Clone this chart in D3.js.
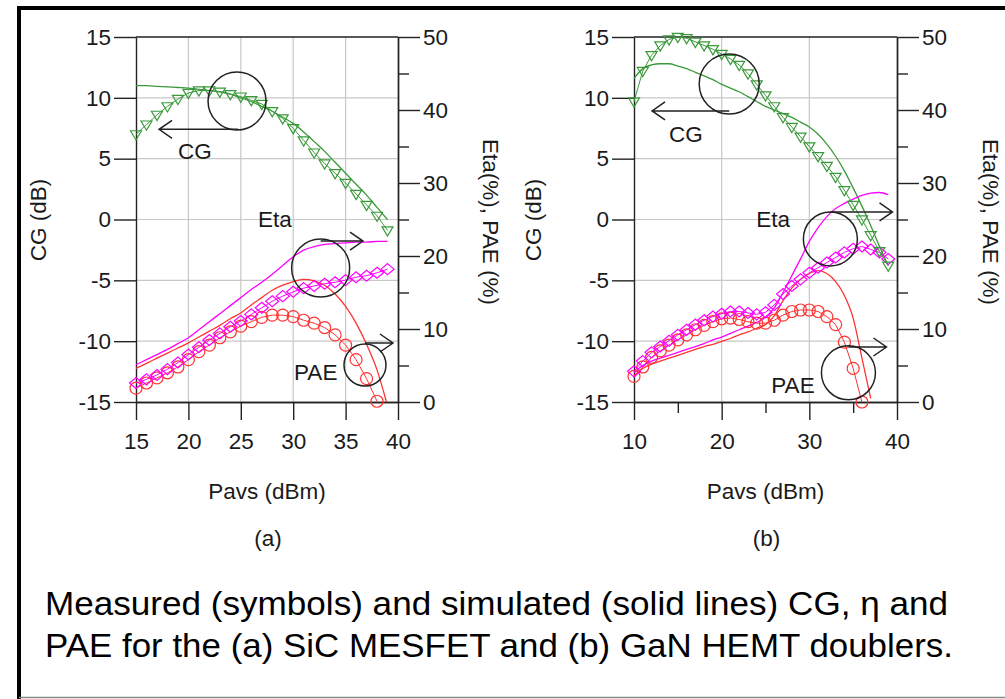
<!DOCTYPE html>
<html>
<head>
<meta charset="utf-8">
<script src="https://cdn.jsdelivr.net/npm/d3@7"></script>
<style>
	body { margin: 0; background: #fff; }
	svg text { font-family: "Liberation Sans", Arial, Helvetica, sans-serif; fill: #1a1a1a; }
</style>
</head>
<body>
<script>
// tick values
var cg_ticks = [-15, -10, -5, 0, 5, 10, 15];
var pct_ticks = [0, 10, 20, 30, 40, 50];
var pct_minor = [5, 15, 25, 35, 45];
var pavs_ticks_a = [15, 20, 25, 30, 35, 40];
var pavs_ticks_b = [10, 20, 30, 40];
var pavs_minor_b = [15, 25, 35];

// (a) SiC MESFET - measured
var pavs_a = [15, 16, 17, 18, 19, 20, 21, 22, 23, 24, 25, 26, 27, 28, 29, 30, 31, 32, 33, 34, 35, 36, 37, 38, 39];
var cg_meas_a = [7.0, 7.8, 8.6, 9.3, 9.9, 10.4, 10.6, 10.6, 10.5, 10.3, 10.1, 9.8, 9.5, 8.9, 8.3, 7.5, 6.5, 5.5, 4.6, 3.8, 3.0, 2.1, 1.2, 0.3, -0.9];
var eta_meas_a = [2.6, 3.1, 3.7, 4.5, 5.4, 6.5, 7.5, 8.5, 9.4, 10.3, 11.1, 12.0, 12.9, 13.8, 14.5, 15.1, 15.6, 15.9, 16.2, 16.4, 16.7, 17.1, 17.3, 17.7, 18.2];
var pavs_pae_a = [15, 16, 17, 18, 19, 20, 21, 22, 23, 24, 25, 26, 27, 28, 29, 30, 31, 32, 33, 34, 35, 36, 37, 38];
var pae_meas_a = [1.9, 2.6, 3.3, 4.0, 4.8, 5.8, 6.9, 7.8, 8.8, 9.6, 10.4, 11.0, 11.6, 11.9, 11.9, 11.7, 11.2, 10.8, 10.2, 9.2, 7.8, 5.8, 3.2, 0.1];
// (a) simulated
var cg_sim_a = [11.0, 11.0, 10.95, 10.9, 10.85, 10.8, 10.7, 10.6, 10.5, 10.3, 10.0, 9.7, 9.3, 8.9, 8.4, 7.9, 7.2, 6.4, 5.6, 4.7, 3.8, 2.9, 2.0, 1.0, 0.0];
var eta_sim_a = [5.1, 5.8, 6.5, 7.2, 8.0, 8.8, 9.9, 11.0, 12.1, 13.2, 14.3, 15.4, 16.4, 17.5, 18.7, 19.9, 20.8, 21.3, 21.6, 21.7, 21.8, 21.9, 21.9, 22.0, 22.0];
var pavs_pae_sim_a = [15, 16, 17, 18, 19, 20, 21, 22, 23, 24, 25, 26, 27, 28, 29, 30, 31, 32, 33, 34, 35, 36, 37, 38, 38.9];
var pae_sim_a = [4.6, 5.3, 6.0, 6.7, 7.4, 8.1, 8.9, 9.7, 10.5, 11.4, 12.2, 13.3, 14.3, 15.3, 16.0, 16.5, 16.8, 16.6, 16.0, 14.8, 13.1, 10.8, 7.9, 4.4, 0.0];

// (b) GaN HEMT - measured
var pavs_b = [10, 11, 12, 13, 14, 15, 16, 17, 18, 19, 20, 21, 22, 23, 24, 25, 26, 27, 28, 29, 30, 31, 32, 33, 34, 35, 36, 37, 38, 39];
var cg_meas_b = [9.7, 12.2, 13.5, 14.3, 14.8, 15.0, 14.9, 14.6, 14.3, 14.0, 13.6, 13.2, 12.7, 12.0, 11.1, 10.2, 9.3, 8.4, 7.6, 6.8, 6.0, 5.2, 4.4, 3.5, 2.4, 1.2, 0.0, -1.3, -2.6, -3.8];
var eta_meas_b = [4.2, 5.6, 6.8, 7.6, 8.4, 9.2, 9.9, 10.6, 11.2, 11.7, 12.1, 12.4, 12.4, 12.2, 12.0, 12.3, 13.3, 14.8, 15.9, 16.8, 17.7, 18.4, 19.1, 19.8, 20.5, 21.0, 21.3, 20.9, 20.5, 19.6];
var pavs_pae_b = [10, 11, 12, 13, 14, 15, 16, 17, 18, 19, 20, 21, 22, 23, 24, 25, 26, 27, 28, 29, 30, 31, 32, 33, 34, 35, 36];
var pae_meas_b = [3.5, 4.8, 6.1, 7.0, 7.8, 8.5, 9.2, 9.9, 10.5, 11.0, 11.4, 11.5, 11.3, 11.0, 10.8, 10.8, 11.2, 11.9, 12.4, 12.6, 12.6, 12.4, 11.7, 10.6, 8.2, 4.6, 0.0];
// (b) simulated
var cg_sim_b = [11.6, 12.4, 12.7, 12.8, 12.8, 12.6, 12.4, 12.1, 11.8, 11.5, 11.1, 10.8, 10.5, 10.1, 9.7, 9.3, 9.0, 8.7, 8.4, 8.0, 7.6, 7.0, 6.2, 5.2, 4.0, 2.6, 1.1, -0.5, -2.2, -3.8];
var eta_sim_b = [4.0, 5.0, 5.6, 6.0, 6.4, 6.8, 7.2, 7.6, 8.0, 8.5, 8.9, 9.4, 9.9, 10.4, 10.9, 11.6, 12.9, 15.0, 17.3, 19.6, 22.0, 23.9, 25.4, 26.5, 27.2, 27.8, 28.3, 28.6, 28.7, 28.4];
var pavs_pae_sim_b = [10, 11, 12, 13, 14, 15, 16, 17, 18, 19, 20, 21, 22, 23, 24, 25, 26, 27, 28, 29, 30, 31, 32, 33, 34, 35, 36, 37];
var pae_sim_b = [3.6, 4.6, 5.2, 5.6, 6.0, 6.4, 6.8, 7.2, 7.6, 7.9, 8.3, 8.7, 9.2, 9.6, 10.1, 10.6, 11.8, 13.9, 15.6, 16.8, 17.6, 18.0, 17.6, 16.5, 14.6, 11.5, 6.0, 0.5];

var w = 1005, h = 699;
var font_size = 22.5;
var green = "#3a9a3a", magenta = "#ff00ff", red = "#ff3333";
var axis_color = "#222";
var plain_num = function(d) { return "" + d; };   // keep ascii hyphen for negatives

var tri_down = "M-5.5,-3.6 L5.5,-3.6 L0,5.6 Z";
var diamond = "M0,-5.5 L6.5,0 L0,5.5 L-6.5,0 Z";
var circle = d3.symbol(d3.symbolCircle, Math.PI * 36)();

var svg = d3.select("body").append("svg")
	.attr("width", w)
	.attr("height", h);

// outer frame
svg.append("path")
	.attr("d", "M19," + h + " L19,8 L" + w + ",8")
	.attr("fill", "none")
	.attr("stroke", "#000")
	.attr("stroke-width", 4);
svg.append("line")
	.attr("x1", 19).attr("x2", w)
	.attr("y1", 697.5).attr("y2", 697.5)
	.attr("stroke", "#888")
	.attr("stroke-width", 1.5);

draw_panel({
	left: 136, right: 398, top: 37, bottom: 402,
	x_domain: [15, 40], x_ticks: pavs_ticks_a, x_minor: [], x_grid: [20, 25, 30, 35],
	cg_label_x: 38, pct_label_x: 490, name: "(a)",
	series: [
		{ xs: pavs_a, ys: cg_sim_a, axis: "cg", color: green },
		{ xs: pavs_a, ys: eta_sim_a, axis: "pct", color: magenta },
		{ xs: pavs_pae_sim_a, ys: pae_sim_a, axis: "pct", color: red },
		{ xs: pavs_pae_a, ys: pae_meas_a, axis: "pct", color: red, symbol: circle },
		{ xs: pavs_a, ys: eta_meas_a, axis: "pct", color: magenta, symbol: diamond },
		{ xs: pavs_a, ys: cg_meas_a, axis: "cg", color: green, symbol: tri_down }
	],
	// annotation positions in data units (Pavs, CG dB)
	notes: [
		{ text: "CG", tx: 19.0, ty: 4.97, cx: 24.64, cy: 9.74, r: 29, ax0: 24.73, ax1: 17.2, ay: 7.41 },
		{ text: "Eta", tx: 26.64, ty: -0.62, cx: 32.62, cy: -3.99, r: 29, ax0: 32.62, ax1: 36.66, ay: -1.77 },
		{ text: "PAE", tx: 30.08, ty: -13.19, cx: 36.85, cy: -11.96, r: 21, ax0: 36.85, ax1: 39.52, ay: -10.15 }
	]
});

draw_panel({
	left: 634, right: 897, top: 37, bottom: 402,
	x_domain: [10, 40], x_ticks: pavs_ticks_b, x_minor: pavs_minor_b, x_grid: [20, 30],
	cg_label_x: 533, pct_label_x: 990, name: "(b)",
	series: [
		{ xs: pavs_b, ys: cg_sim_b, axis: "cg", color: green },
		{ xs: pavs_b, ys: eta_sim_b, axis: "pct", color: magenta },
		{ xs: pavs_pae_sim_b, ys: pae_sim_b, axis: "pct", color: red },
		{ xs: pavs_pae_b, ys: pae_meas_b, axis: "pct", color: red, symbol: circle },
		{ xs: pavs_b, ys: eta_meas_b, axis: "pct", color: magenta, symbol: diamond },
		{ xs: pavs_b, ys: cg_meas_b, axis: "cg", color: green, symbol: tri_down }
	],
	notes: [
		{ text: "CG", tx: 14.0, ty: 6.37, cx: 20.86, cy: 11.14, r: 30, ax0: 20.86, ax1: 12.06, ay: 8.92 },
		{ text: "Eta", tx: 23.94, ty: -0.62, cx: 32.4, cy: -1.6, r: 27, ax0: 32.4, ax1: 39.49, ay: 0.62 },
		{ text: "PAE", tx: 25.66, ty: -14.26, cx: 34.46, cy: -12.6, r: 27, ax0: 34.46, ax1: 38.8, ay: -10.48 }
	]
});

// caption
svg.append("text")
	.attr("x", 45).attr("y", 615)
	.attr("font-size", 33)
	.attr("textLength", 903)
	.attr("lengthAdjust", "spacingAndGlyphs")
	.style("fill", "#000")
	.text("Measured (symbols) and simulated (solid lines) CG, η and");
svg.append("text")
	.attr("x", 45).attr("y", 657)
	.attr("font-size", 33)
	.attr("textLength", 908)
	.attr("lengthAdjust", "spacingAndGlyphs")
	.style("fill", "#000")
	.text("PAE for the (a) SiC MESFET and (b) GaN HEMT doublers.");

function draw_panel(cfg) {
	var g = svg.append("g");
	var x = d3.scaleLinear().domain(cfg.x_domain).range([cfg.left, cfg.right]);
	var y_cg = d3.scaleLinear().domain([-15, 15]).range([cfg.bottom, cfg.top]);
	var y_pct = d3.scaleLinear().domain([0, 50]).range([cfg.bottom, cfg.top]);

	/* grid */
	g.selectAll(null).data(cfg.x_grid).enter().append("line")
		.attr("x1", function(d) { return x(d); })
		.attr("x2", function(d) { return x(d); })
		.attr("y1", cfg.top).attr("y2", cfg.bottom)
		.attr("stroke", "#c8c8c8").attr("stroke-width", 1.2);
	g.selectAll(null).data([-10, -5, 0, 5, 10]).enter().append("line")
		.attr("y1", function(d) { return y_cg(d); })
		.attr("y2", function(d) { return y_cg(d); })
		.attr("x1", cfg.left).attr("x2", cfg.right)
		.attr("stroke", "#c8c8c8").attr("stroke-width", 1.2);

	/* axes */
	var ax_left = g.append("g")
		.attr("transform", "translate(" + cfg.left + ",0)")
		.call(d3.axisLeft(y_cg).tickValues(cg_ticks).tickFormat(plain_num).tickSize(22).tickSizeOuter(0).tickPadding(3));
	var ax_right = g.append("g")
		.attr("transform", "translate(" + cfg.right + ",0)")
		.call(d3.axisRight(y_pct).tickValues(pct_ticks).tickFormat(plain_num).tickSize(22).tickSizeOuter(0).tickPadding(3));
	var ax_right_minor = g.append("g")
		.attr("transform", "translate(" + cfg.right + ",0)")
		.call(d3.axisRight(y_pct).tickValues(pct_minor).tickSize(11).tickSizeOuter(0).tickFormat(""));
	var ax_bottom = g.append("g")
		.attr("transform", "translate(0," + cfg.bottom + ")")
		.call(d3.axisBottom(x).tickValues(cfg.x_ticks).tickFormat(plain_num).tickSize(18).tickSizeOuter(0).tickPadding(13));
	var ax_bottom_minor = g.append("g")
		.attr("transform", "translate(0," + cfg.bottom + ")")
		.call(d3.axisBottom(x).tickValues(cfg.x_minor).tickSize(11).tickSizeOuter(0).tickFormat(""));

	[ax_left, ax_right, ax_right_minor, ax_bottom, ax_bottom_minor].forEach(function(a) {
		a.attr("font-size", font_size).attr("font-family", null);
		a.selectAll("line").attr("stroke", axis_color).attr("stroke-width", 1.4);
		a.selectAll("path").attr("stroke", axis_color).attr("stroke-width", 1.4);
		a.selectAll("text").style("fill", "#1a1a1a");
	});

	// top frame line
	g.append("line")
		.attr("x1", cfg.left).attr("x2", cfg.right)
		.attr("y1", cfg.top).attr("y2", cfg.top)
		.attr("stroke", axis_color).attr("stroke-width", 1.4);

	/* series */
	cfg.series.forEach(function(s) {
		var yy = s.axis == "cg" ? y_cg : y_pct;
		var pts = s.xs.map(function(d, i) { return [d, s.ys[i]]; });
		var line = d3.line()
			.x(function(d) { return x(d[0]); })
			.y(function(d) { return yy(d[1]); });
		if (!s.symbol) line.curve(d3.curveMonotoneX);
		g.append("path")
			.datum(pts)
			.attr("d", line)
			.attr("fill", "none")
			.attr("stroke", s.color)
			.attr("stroke-width", s.symbol ? 1 : 1.3);
		if (s.symbol) {
			g.selectAll(null).data(pts).enter().append("path")
				.attr("transform", function(d) { return "translate(" + x(d[0]) + "," + yy(d[1]) + ")"; })
				.attr("d", s.symbol)
				.attr("fill", "none")
				.attr("stroke", s.color)
				.attr("stroke-width", 1.2);
		}
	});

	/* annotations */
	cfg.notes.forEach(function(n) {
		g.append("circle")
			.attr("cx", x(n.cx)).attr("cy", y_cg(n.cy)).attr("r", n.r)
			.attr("fill", "none").attr("stroke", "#222").attr("stroke-width", 1.5);
		var x0 = x(n.ax0), x1 = x(n.ax1), ay = y_cg(n.ay);
		var dir = x1 > x0 ? -1 : 1;
		g.append("path")
			.attr("d", "M" + x0 + "," + ay + " L" + x1 + "," + ay +
				" M" + (x1 + dir * 13) + "," + (ay - 9) + " L" + x1 + "," + ay + " L" + (x1 + dir * 13) + "," + (ay + 9))
			.attr("fill", "none").attr("stroke", "#222").attr("stroke-width", 1.5);
		g.append("text")
			.attr("x", x(n.tx)).attr("y", y_cg(n.ty))
			.attr("font-size", font_size)
			.text(n.text);
	});

	/* titles */
	g.append("text")
		.attr("transform", "translate(" + cfg.cg_label_x + ",220) rotate(-90)")
		.attr("text-anchor", "middle")
		.attr("dominant-baseline", "central")
		.attr("font-size", font_size)
		.text("CG (dB)");
	g.append("text")
		.attr("transform", "translate(" + cfg.pct_label_x + ",222) rotate(90)")
		.attr("text-anchor", "middle")
		.attr("dominant-baseline", "central")
		.attr("font-size", font_size)
		.text("Eta(%), PAE (%)");
	var mid = (cfg.left + cfg.right) / 2;
	g.append("text")
		.attr("x", mid).attr("y", 499)
		.attr("text-anchor", "middle")
		.attr("font-size", font_size)
		.text("Pavs (dBm)");
	g.append("text")
		.attr("x", mid + 1).attr("y", 546)
		.attr("text-anchor", "middle")
		.attr("font-size", font_size)
		.text(cfg.name);
}
</script>
</body>
</html>
